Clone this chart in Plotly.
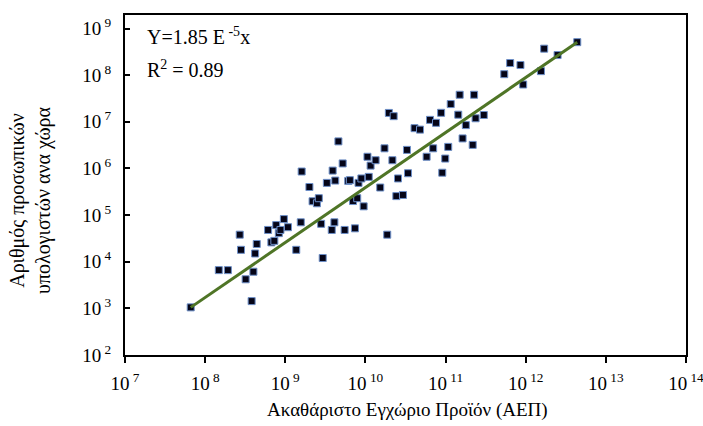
import plotly.graph_objects as go

# GDP (x) and number of personal computers (y) per country
gdp = [
    6.6e7, 1.48e8, 1.92e8, 3.2e8, 4.0e8, 3.8e8, 2.7e8, 2.8e8, 4.2e8, 4.4e8,
    6.1e8, 6.7e8, 7.3e8, 7.7e8, 8.3e8, 8.7e8, 9.6e8, 1.08e9, 1.37e9, 1.56e9,
    2.0e9, 2.19e9, 2.48e9, 2.62e9, 2.8e9, 2.93e9, 3.3e9, 3.8e9, 4.1e9, 5.5e9,
    7.0e9, 7.9e9, 8.2e9, 9.5e9, 7.4e9, 1.53e10, 1.87e10, 2.43e10, 2.94e10, 1.6e9,
    3.9e9, 4.2e9, 4.6e9, 5.2e9, 6.1e9, 6.4e9, 8.9e9, 1.06e10, 1.16e10, 1.34e10,
    1.1e10, 1.73e10, 1.96e10, 2.25e10, 2.17e10, 2.55e10, 3.3e10, 3.4e10, 4.1e10, 4.8e10,
    4.4e12, 1.7e12, 2.5e12, 1.55e12, 6.4e11, 8.6e11, 5.4e11, 9.3e11, 1.5e11, 2.27e11,
    1.16e11, 8.8e10, 6.4e10, 7.6e10, 1.44e11, 2.37e11, 3.0e11, 1.79e11, 7.0e10, 1.08e11,
    1.63e11, 2.18e11, 5.8e10, 9.9e10, 9.1e10,
]
pcs = [
    1.05e3, 6.6e3, 6.6e3, 4.2e3, 6.1e3, 1.43e3, 3.8e4, 1.8e4, 1.5e4, 2.4e4,
    4.8e4, 2.6e4, 2.8e4, 6.1e4, 4.1e4, 4.8e4, 8.2e4, 5.5e4, 1.8e4, 7.0e4,
    4.0e5, 1.98e5, 1.79e5, 2.3e5, 6.5e4, 1.2e4, 4.9e5, 4.8e4, 7.0e4, 4.8e4,
    2.0e5, 2.3e5, 4.9e5, 1.54e5, 5.2e4, 3.9e5, 3.8e4, 2.55e5, 2.7e5, 8.6e5,
    9.0e5, 5.5e5, 3.8e6, 1.28e6, 5.4e5, 5.6e5, 6.1e5, 1.78e6, 1.15e6, 1.5e6,
    6.6e5, 2.7e6, 1.55e7, 1.32e7, 1.5e6, 6.1e5, 2.5e6, 7.9e5, 7.3e6, 6.8e6,
    5.1e8, 3.7e8, 2.7e8, 1.22e8, 1.82e8, 1.65e8, 1.05e8, 6.3e7, 3.8e7, 3.8e7,
    2.4e7, 1.56e7, 1.1e7, 9.5e6, 1.42e7, 1.19e7, 1.4e7, 8.5e6, 2.7e6, 2.9e6,
    4.4e6, 3.2e6, 1.78e6, 1.63e6, 8.1e5,
]

# end points of the trend line
trend_x = [6.6e7, 4.4e12]
trend_y = [1.05e3, 5.1e8]

x_exponents = [7, 8, 9, 10, 11, 12, 13, 14]
y_exponents = [2, 3, 4, 5, 6, 7, 8, 9]

serif = "Liberation Serif"

fig = go.Figure()
fig.add_trace(go.Scatter(
    x=gdp, y=pcs, mode="markers",
    marker=dict(symbol="square", size=7, color="#050518",
                line=dict(color="#6d8fc8", width=1)),
    showlegend=False, hoverinfo="skip",
))
fig.add_trace(go.Scatter(
    x=trend_x, y=trend_y, mode="lines",
    line=dict(color="#4f7526", width=3),
    showlegend=False, hoverinfo="skip",
))

fig.update_layout(
    width=703, height=426,
    margin=dict(l=125, r=17, t=15, b=71),
    paper_bgcolor="white", plot_bgcolor="white",
    font=dict(family=serif, color="black", size=19),
    xaxis=dict(
        type="log", range=[6.9995, 14.0005],
        tickvals=[10 ** e for e in x_exponents],
        ticktext=[f"10<sup> {e}</sup>" for e in x_exponents],
        ticks="outside", ticklen=6, tickwidth=2, tickcolor="black",
        showline=True, linecolor="black", linewidth=2, mirror=True,
        showgrid=False, zeroline=False,
        tickfont=dict(family=serif, size=19),
        ticklabelstandoff=4,
        ticklabeloverflow="allow",
        automargin=False,
    ),
    yaxis=dict(
        type="log", range=[2, 9.29],
        tickvals=[10 ** e for e in y_exponents],
        ticktext=[f"10<sup> {e}</sup>" for e in y_exponents],
        ticks="inside", ticklen=5, tickwidth=2, tickcolor="black",
        showline=True, linecolor="black", linewidth=2, mirror=True,
        showgrid=False, zeroline=False,
        tickfont=dict(family=serif, size=19),
        ticklabelstandoff=8,
        ticklabeloverflow="allow",
        automargin=False,
    ),
    annotations=[
        dict(text="Y=1.85 E<sup> -5</sup>x", xref="paper", yref="paper",
             x=(145 - 125) / 561, y=(355 - 36) / 340, xanchor="left", yanchor="middle",
             showarrow=False, font=dict(family=serif, size=20)),
        dict(text="R<sup>2</sup> = 0.89", xref="paper", yref="paper",
             x=(145 - 125) / 561, y=(355 - 69) / 340, xanchor="left", yanchor="middle",
             showarrow=False, font=dict(family=serif, size=20)),
        dict(text="Ακαθάριστο Εγχώριο Προϊόν (ΑΕΠ)", xref="paper", yref="paper",
             x=(407 - 125) / 561, y=(355 - 410) / 340, xanchor="center", yanchor="middle",
             showarrow=False, font=dict(family=serif, size=19)),
        dict(text="Αριθμός προσωπικών<br>υπολογιστών ανα χώρα", xref="paper", yref="paper",
             x=(30 - 125) / 561, y=(355 - 200) / 340, xanchor="center", yanchor="middle",
             textangle=-90, showarrow=False, align="center",
             font=dict(family=serif, size=20)),
    ],
)

fig.write_html("out.html")
